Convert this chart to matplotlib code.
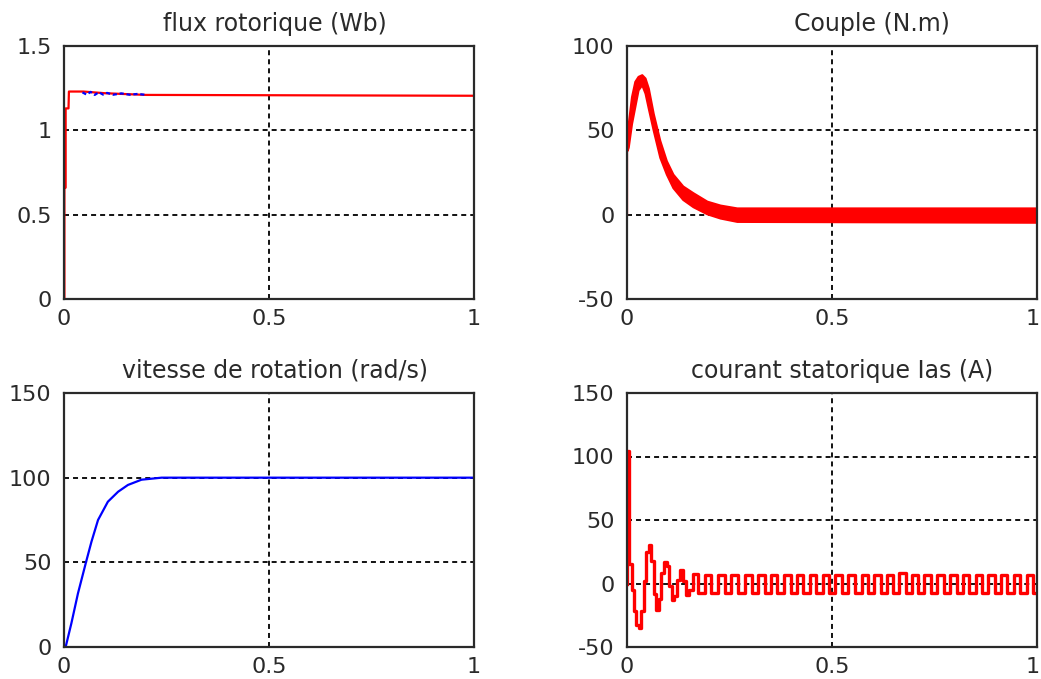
import numpy as np
import matplotlib
matplotlib.use("Agg")
import matplotlib.pyplot as plt
from matplotlib.transforms import ScaledTranslation

plt.rcParams['font.family'] = ['DejaVu Sans']
plt.rcParams['lines.scale_dashes'] = False

# ---------------- data ----------------
# flux rotorique (Wb)
flux_t = [0.0, 0.001, 0.001, 0.004, 0.004, 0.011, 0.012, 0.047, 0.10, 0.20, 1.0]
flux_v = [0.0, 0.0, 0.66, 0.66, 1.13, 1.13, 1.23, 1.23, 1.22, 1.21, 1.205]
flux_ref_t = [0.045, 0.055, 0.065, 0.075, 0.085, 0.095, 0.105, 0.120, 0.140, 0.160, 0.180, 0.200]
flux_ref_v = [1.225, 1.212, 1.228, 1.210, 1.226, 1.212, 1.222, 1.211, 1.219, 1.211, 1.216, 1.210]

# couple (N.m) : envelope of the red band
cpl_t     = [0.0, 0.003, 0.011, 0.019, 0.027, 0.036, 0.044, 0.052, 0.064, 0.080, 0.096, 0.112, 0.136, 0.161, 0.195, 0.227, 0.268, 1.0]
cpl_upper = [40, 54, 70, 79, 82, 83, 81, 75, 60, 44, 32, 24, 17, 13, 8, 5.7, 4.0, 4.0]
cpl_lower = [38, 40, 54, 64, 74, 77, 72, 63, 50, 34, 24, 16, 9, 4.7, 0.5, -2.0, -4.0, -4.5]
cpl_start = [0.0, 40.0]

# vitesse de rotation (rad/s)
spd_t = [0.0, 0.004, 0.018, 0.034, 0.054, 0.067, 0.083, 0.107, 0.132, 0.156, 0.189, 0.238, 1.0]
spd_v = [0.0, 0.0, 14, 31.6, 50.4, 62.2, 75, 85.8, 91.7, 95.7, 98.8, 100, 100]

# courant statorique Ias (A)
cur_tr_t = [0.0, 0.002, 0.008, 0.014, 0.020, 0.026, 0.032, 0.038, 0.044, 0.050, 0.056, 0.062,
            0.068, 0.074, 0.080, 0.087, 0.094, 0.100, 0.106, 0.112, 0.118, 0.125, 0.133,
            0.140, 0.147, 0.154]
cur_tr_v = [0.0, 104, 15, -5, -22, -33, -35, -22, 2, 25, 30, 18,
            -8, -21, -12, 8, 17, 14, -2, -13, -10, 3, 10.6,
            2, -9, -5]
cur_pk_t = [0.166, 0.198, 0.230, 0.263, 0.296, 0.328, 0.359, 0.391, 0.422, 0.453, 0.485, 0.516,
            0.548, 0.580, 0.611, 0.641, 0.672, 0.702, 0.733, 0.765, 0.796, 0.827, 0.858, 0.889,
            0.920, 0.951, 0.983]
cur_pk_v = [7.5, 7, 7, 7, 7, 7, 7, 7, 7, 7, 7, 7,
            7, 7, 7, 7, 8, 7, 7, 7, 7, 7, 7, 7,
            7, 7, 7]
cur_tg_t = [0.182, 0.214, 0.246, 0.279, 0.312, 0.343, 0.375, 0.407, 0.438, 0.469, 0.501, 0.532,
            0.564, 0.596, 0.626, 0.657, 0.687, 0.718, 0.749, 0.781, 0.812, 0.843, 0.874, 0.905,
            0.936, 0.967, 0.999]
cur_tg_v = [-7.5, -7.5, -7.5, -7.5, -7.5, -7.5, -7.5, -7.5, -7.5, -7.5, -7.5, -7.5,
            -7.5, -7.5, -7.5, -7.5, -7.5, -7.5, -7.5, -7.5, -7.5, -7.5, -7.5, -7.5,
            -7.5, -7.5, -7.5]

x_ticks = [0, 0.5, 1]
x_labels = ["0", "0.5", "1"]

titles = ["flux rotorique (Wb)", "Couple (N.m)", "vitesse de rotation (rad/s)",
          "courant statorique Ias (A)"]
ylims = [(0, 1.5), (-50, 100), (0, 150), (-50, 150)]
yticks = [[0, 0.5, 1, 1.5], [-50, 0, 50, 100], [0, 50, 100, 150], [-50, 0, 50, 100, 150]]
ylabels = [["0", "0.5", "1", "1.5"], ["-50", "0", "50", "100"], ["0", "50", "100", "150"],
           ["-50", "0", "50", "100", "150"]]

# ---------------- figure ----------------
W, H = 1041, 679
fig = plt.figure(figsize=(W / 100, H / 100), dpi=100)

boxes = [(64, 46, 474, 299), (627, 46, 1037, 299), (64, 393, 474, 647), (627, 393, 1037, 647)]
title_x = [0.515, 0.597, 0.515, 0.524]
axes = []
for (l, t, r, b) in boxes:
    ax = fig.add_axes([l / W, 1 - b / H, (r - l) / W, (b - t) / H])
    axes.append(ax)

FS = 16
for i, ax in enumerate(axes):
    ax.set_xlim(0, 1)
    ax.set_ylim(*ylims[i])
    ax.set_xticks(x_ticks)
    ax.set_xticklabels(x_labels)
    ax.set_yticks(yticks[i])
    ax.set_yticklabels(ylabels[i])
    ax.tick_params(length=0, labelsize=FS, colors='#2a2a2a', pad=9)
    ax.tick_params(axis='x', pad=7)
    for s in ax.spines.values():
        s.set_linewidth(1.6)
        s.set_color('#2a2a2a')
    ax.set_axisbelow(True)
    ax.grid(True, color='#111111', linestyle=(0, (3.6, 2.9)), linewidth=1.4)
    ax.text(title_x[i], 1.06, titles[i], transform=ax.transAxes, ha='center',
            va='baseline', fontsize=17, color='#2a2a2a')

# keep the "1" at the right figure edge inside the canvas
for ax in (axes[1], axes[3]):
    lab = ax.get_xticklabels()[-1]
    lab.set_horizontalalignment('right')
    lab.set_transform(lab.get_transform() + ScaledTranslation(3 / 100, 0, fig.dpi_scale_trans))

# flux
ax = axes[0]
ax.plot(flux_ref_t, flux_ref_v, color='#0000ff', linewidth=1.6, linestyle=(0, (3, 2)), zorder=3)
ax.plot(flux_t, flux_v, color='#ff0000', linewidth=1.6, zorder=2)

# couple
ax = axes[1]
ax.fill_between(cpl_t, cpl_lower, cpl_upper, color='#ff0000', linewidth=1.5, edgecolor='#ff0000', zorder=2)
ax.plot([cpl_t[0], cpl_t[0]], cpl_start, color='#ff0000', linewidth=1.6, zorder=2)

# vitesse
ax = axes[2]
ax.plot(spd_t, spd_v, color='#0000ff', linewidth=1.6, zorder=2)

# courant
ax = axes[3]
ct = list(cur_tr_t)
cv = list(cur_tr_v)
steady = sorted(zip(cur_pk_t + cur_tg_t, cur_pk_v + cur_tg_v))
ct += [p[0] for p in steady]
cv += [p[1] for p in steady]
ax.plot(ct, cv, color='#ff0000', linewidth=2.4, drawstyle='steps-mid', zorder=2)

fig.savefig("out.png", dpi=100, facecolor='white')
